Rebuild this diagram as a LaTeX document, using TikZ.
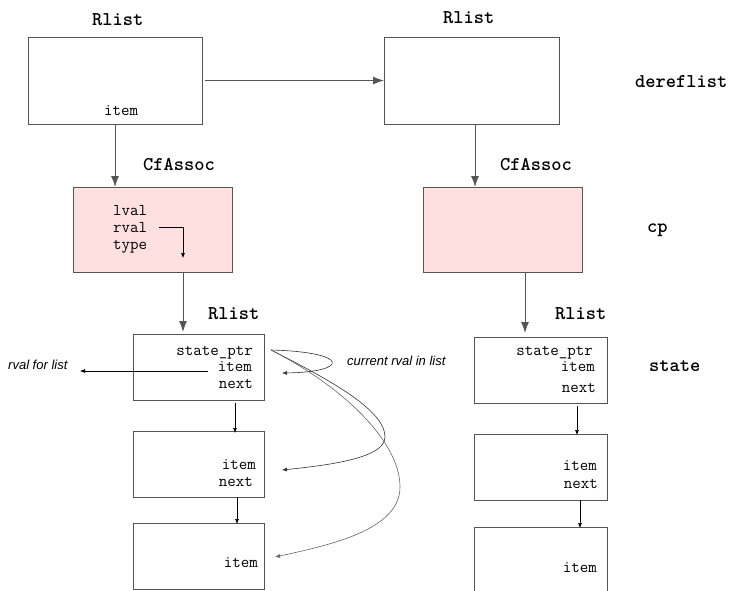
\documentclass[tikz,border=0pt]{standalone}
\usepackage{fontspec}
\setsansfont{Liberation Sans}
\usetikzlibrary{arrows.meta,calc}
\definecolor{pinkfill}{RGB}{255,224,224}
\definecolor{linegray}{RGB}{85,85,85}
\begin{document}
\begin{tikzpicture}[x=1pt,y=-1pt,
 box/.style={draw=linegray, line width=1pt, inner sep=0pt, outer sep=0pt},
 pinkbox/.style={box, fill=pinkfill},
 lbl/.style={font=\ttfamily\bfseries\fontsize{19.5}{22}\selectfont, anchor=base west, inner sep=0pt},
 fld/.style={font=\ttfamily\fontsize{16.5}{18}\selectfont, inner sep=0pt},
 note/.style={font=\sffamily\itshape\fontsize{13}{15}\selectfont, anchor=base west, inner sep=0pt},
 big/.style={-{Latex[length=11pt,width=8pt]}, line width=1pt, draw=linegray},
 small/.style={-{Latex[length=5pt,width=4pt]}, line width=0.6pt},
 curve/.style={-{Latex[length=5pt,width=4pt]}, line width=0.6pt},
]
\useasboundingbox (0,0) rectangle (739,590);
\fill[white] (0,0) rectangle (739,590);

% top row boxes
\node[box, minimum width=174pt, minimum height=87pt] (A1) at (115,80.5) {};
\node[box, minimum width=175pt, minimum height=87pt] (B1) at (471.5,80.5) {};
\node[pinkbox, minimum width=159pt, minimum height=85pt] (A2) at (152.5,229.5) {};
\node[pinkbox, minimum width=159pt, minimum height=85pt] (B2) at (502.5,229.5) {};

% lists
\node[box, minimum width=131pt, minimum height=66pt] (L1) at (198.5,367) {};
\node[box, minimum width=131pt, minimum height=66pt] (L2) at (198.5,464) {};
\node[box, minimum width=131pt, minimum height=66pt] (L3) at (198.5,556) {};
\node[box, minimum width=133pt, minimum height=66pt] (R1) at (540.5,370) {};
\node[box, minimum width=133pt, minimum height=66pt] (R2) at (540.5,467) {};
\coordinate (R3tl) at (474,527);
\coordinate (R3tr) at (607,527);
\draw[draw=linegray, line width=1pt] (474,600) -- (R3tl) -- (R3tr) -- (607,600);

% labels
\node[lbl] (rlA) at (92,25) {Rlist};
\node[lbl] (rlB) at (443,23) {Rlist};
\node[lbl] (cfA) at (143,170) {CfAssoc};
\node[lbl] (cfB) at (500,170) {CfAssoc};
\node[lbl] (deref) at (635,87) {dereflist};
\node[lbl] (cp) at (647,232) {cp};
\node[lbl] (state) at (649,371) {state};
\node[lbl] (rlL) at (208,319) {Rlist};
\node[lbl] (rlR) at (555,319) {Rlist};

% fields
\node[fld, anchor=base west] (a1item) at (104,115) {item};
\node[fld, anchor=base west] (lval) at (113,215) {lval};
\node[fld, anchor=base west] (rval) at (113,232) {rval};
\node[fld, anchor=base west] (type) at (113,249) {type};

\node[fld, anchor=base east] (l1sp) at (253,355) {state\_ptr};
\node[fld, anchor=base east] (l1item) at (252,371) {item};
\node[fld, anchor=base east] (l1next) at (253,388) {next};
\node[fld, anchor=base east] (l2item) at (256,469) {item};
\node[fld, anchor=base east] (l2next) at (253,486) {next};
\node[fld, anchor=base east] (l3item) at (258,567) {item};

\node[fld, anchor=base east] (r1sp) at (593,355) {state\_ptr};
\node[fld, anchor=base east] (r1item) at (595,371) {item};
\node[fld, anchor=base east] (r1next) at (596,392) {next};
\node[fld, anchor=base east] (r2item) at (597,470) {item};
\node[fld, anchor=base east] (r2next) at (598,488) {next};
\node[fld, anchor=base east] (r3item) at (597,572) {item};

\node[note] (rvfl) at (8,369) {rval for list};
\node[note] (cur) at (347,365) {current rval in list};

% big arrows
\draw[big, shorten <=3pt] (A1.east) -- (B1.west);
\draw[big] (A1.south) -- (A1.south |- A2.north);
\draw[big] ([xshift=3.5pt]B1.south) -- ([xshift=3.5pt]B1.south |- B2.north);
\draw[big, shorten >=2pt] ([xshift=30.5pt]A2.south) -- ([xshift=30.5pt]A2.south |- L1.north);
\draw[big, shorten >=4pt] ([xshift=22.5pt]B2.south) -- ([xshift=22.5pt]B2.south |- R1.north);

% rval arrow inside pink box
\coordinate (rvs) at (159,227);
\coordinate (rvc) at (183,227);
\coordinate (rve) at (183,258);
\draw[small, draw=black] (rvs) -- (rvc) -- (rve);

% list next arrows
\draw[small] ([xshift=36.5pt,yshift=-3pt]L1.south) -- ([xshift=36.5pt,yshift=-2pt]L2.north);
\draw[small] ([xshift=38.5pt]L2.south) -- ([xshift=38.5pt,yshift=-1pt]L3.north);
\draw[small] ([xshift=36.5pt,yshift=-3pt]R1.south) -- ([xshift=36.5pt,yshift=-1pt]R2.north);
\draw[small] ([xshift=39.5pt]R2.south) -- ([xshift=39.5pt,yshift=-1pt]R3tl -| R2.south);

% rval for list
\coordinate (rvfs) at (208,371);
\coordinate (rvfe) at (80,371);
\draw[small] (rvfs) -- (rvfe);

% curves from state_ptr
\coordinate (sp) at (271,350);
\coordinate (c1e) at (282,373);
\coordinate (c2e) at (282,470);
\coordinate (c3e) at (275,557);
\draw[curve, draw=black!80] (sp) .. controls (350,352) and (350,372) .. (c1e);
\draw[curve, draw=black!80] (sp) .. controls (330,380) and (385,410) .. (385,437) .. controls (385,458) and (330,465) .. (c2e);
\draw[curve, draw=black!60] (sp) .. controls (340,385) and (400,440) .. (400,487) .. controls (400,530) and (330,545) .. (c3e);
\end{tikzpicture}
\end{document}
